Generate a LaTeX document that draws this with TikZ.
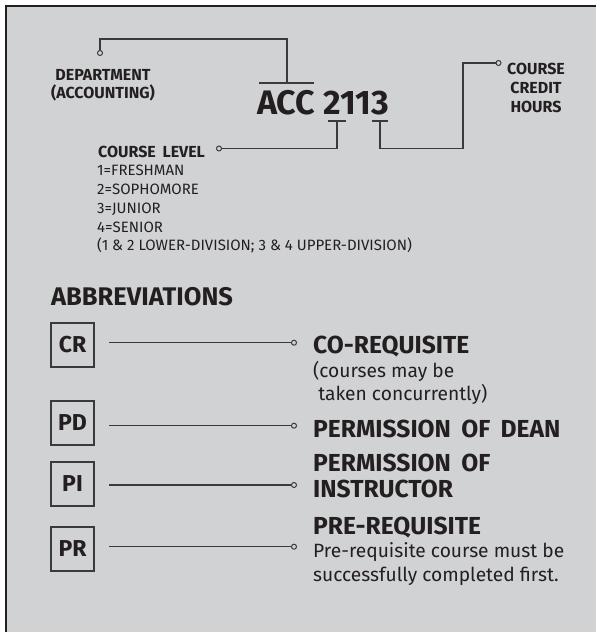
\documentclass[tikz,border=0pt]{standalone}
\usepackage{fontspec}
\setmainfont{Fira Sans}
\definecolor{bg}{HTML}{D1D2D4}
\definecolor{ink}{HTML}{231F20}
\definecolor{ln}{HTML}{3A3A3C}
\newcommand{\wsp}{\hspace{0.42em}}
\begin{document}
\begin{tikzpicture}[x=1pt,y=-1pt,
  conn/.style={draw=ln,line width=1.4pt},
  dot/.style={circle,draw=ln,fill=bg,line width=1pt,inner sep=0pt,minimum size=5pt},
  txt/.style={inner sep=0pt,text=ink},
  hb/.style={txt,font=\bfseries\fontsize{24.6}{26}\selectfont},
  hs/.style={txt,font=\bfseries\fontsize{16}{19}\selectfont},
  lv/.style={txt,font=\fontsize{15}{19}\selectfont,anchor=base west},
  desc/.style={txt,font=\fontsize{19.2}{23}\selectfont,anchor=base west},
  abox/.style={draw=ln,line width=1.2pt,minimum width=43pt,minimum height=44pt,inner sep=0pt,text=ink,font=\bfseries\fontsize{23}{25}\selectfont}]
\useasboundingbox (0,0) rectangle (596,632);
\fill[white] (0,0) rectangle (596,632);
\fill[bg] (6,5.5) rectangle (600,640);
\draw[ink,line width=2pt] (6,640) -- (6,5.5) -- (600,5.5);

% top part
\node[txt,font=\bfseries\fontsize{34}{36}\selectfont,anchor=base west] (acc) at (257,114) {ACC 2113};
\node[hs,anchor=base] (dep1) at (103,80) {DEPARTMENT};
\node[hs,anchor=base] (dep2) at (103,98) {(ACCOUNTING)};
\node[hs,anchor=base] (cch1) at (536,74.3) {COURSE};
\node[hs,anchor=base] (cch2) at (536,93.3) {CREDIT};
\node[hs,anchor=base] (cch3) at (536,112.3) {HOURS};
\node[hs,anchor=base west] (cl) at (98,157.3) {COURSE\wsp LEVEL};
\node[lv] (l1) at (97,175.7) {1=FRESHMAN};
\node[lv] (l2) at (97,194.5) {2=SOPHOMORE};
\node[lv] (l3) at (97,213.2) {3=JUNIOR};
\node[lv] (l4) at (97,232) {4=SENIOR};
\node[lv] (l5) at (97,250.7) {(1 \& 2 LOWER-DIVISION; 3 \& 4 UPPER-DIVISION)};

\node[dot] (ddep) at (100,53) {};
\node[dot] (dcl) at (219,148.5) {};
\node[dot] (dcch) at (498.5,63) {};
\coordinate (b1l) at (259,83); \coordinate (b1r) at (314,83); \coordinate (b1m) at (287,83);
\coordinate (b2l) at (328,121); \coordinate (b2r) at (346,121); \coordinate (b2m) at (337,121);
\coordinate (b3l) at (372,121); \coordinate (b3r) at (388,121); \coordinate (b3m) at (380,121);
\draw[conn] (b1l) -- (b1r);
\draw[conn] (b2l) -- (b2r);
\draw[conn] (b3l) -- (b3r);
\draw[conn] (ddep.north) |- (b1m |- 0,39) -- (b1m);
\draw[conn] (dcl.east) -| (b2m);
\draw[conn] (b3m) |- (463,148.5) |- (dcch.west);

% abbreviations
\node[txt,font=\bfseries\fontsize{25.5}{27}\selectfont,anchor=base west] (abbr) at (51,305) {ABBREVIATIONS};
\node[abox] (cr) at (72.5,345) {CR};
\node[abox] (pd) at (72.5,423) {PD};
\node[abox] (pi) at (72.5,484) {PI};
\node[abox] (pr) at (72.5,549) {PR};
\foreach \n/\y in {cr/342.7,pd/425.7,pi/485,pr/546.7}{
  \coordinate (\n s) at (109,\y);
  \node[dot] (\n d) at (294,\y) {};
  \draw[conn,line width=1.2pt] (\n s) -- (\n d.west);
}
\node[hb,anchor=base west] (t1) at (313,353.3) {CO-REQUISITE};
\node[desc] (t1a) at (313,377.3) {(courses may be};
\node[desc] (t1b) at (313,400) {\ taken concurrently)};
\node[hb,anchor=base west] (t2) at (313,437.7) {PERMISSION\wsp OF\wsp DEAN};
\node[hb,anchor=base west] (t3a) at (313,471) {PERMISSION\wsp OF};
\node[hb,anchor=base west] (t3b) at (313,497.3) {INSTRUCTOR};
\node[hb,anchor=base west] (t4) at (313,534) {PRE-REQUISITE};
\node[desc] (t4a) at (313,557) {Pre-requisite course must be};
\node[desc] (t4b) at (313,581.5) {successfully completed first.};
\end{tikzpicture}
\end{document}
